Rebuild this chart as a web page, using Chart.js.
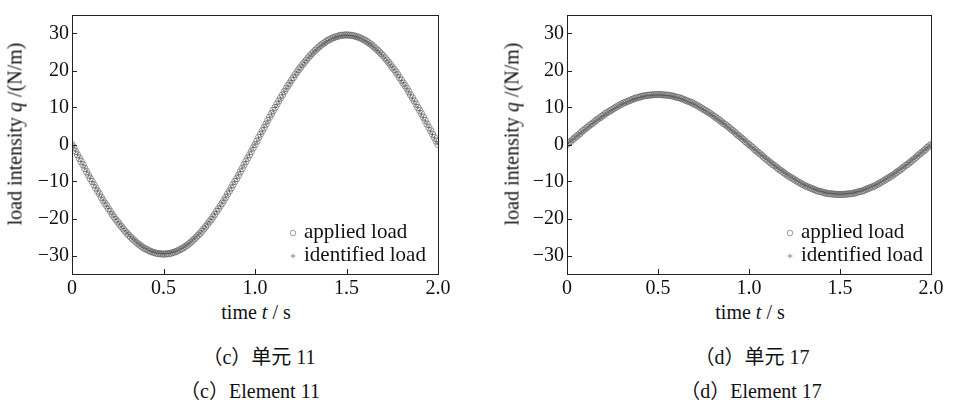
<!DOCTYPE html>
<html>
<head>
<meta charset="utf-8">
<script src="https://cdn.jsdelivr.net/npm/chart.js@4.4.0/dist/chart.umd.min.js"></script>
<style>
  html, body { margin: 0; padding: 0; background: #fff; }
  body { width: 954px; height: 404px; position: relative; overflow: hidden; font-family: "Liberation Serif", "Noto Sans CJK SC", serif; color: #111; }
  .cv { position: absolute; top: 0; }
  .ytitle { position: absolute; font-size: 20px; white-space: nowrap; transform: translate(-50%, -50%) rotate(-90deg); }
  .xtitle { position: absolute; font-size: 20px; white-space: nowrap; transform: translate(-50%, -50%); }
  .cap { position: absolute; font-size: 20px; white-space: nowrap; transform: translate(-50%, -50%); font-family: "Liberation Serif", "Noto Sans CJK SC", serif; }
</style>
</head>
<body>
<canvas id="c1" class="cv" width="477" height="300" style="left:0px"></canvas>
<canvas id="c2" class="cv" width="477" height="300" style="left:477px"></canvas>

<div class="ytitle" style="left:15px; top:134px;">load intensity <i>q</i> /(N/m)</div>
<div class="ytitle" style="left:512px; top:134px;">load intensity <i>q</i> /(N/m)</div>
<div class="xtitle" style="left:256px; top:312px;">time <i>t</i> / s</div>
<div class="xtitle" style="left:750px; top:312px;">time <i>t</i> / s</div>
<div class="cap" style="left:259px; top:355px;">（c）单元 11</div>
<div class="cap" style="left:250px; top:389px;">（c）Element 11</div>
<div class="cap" style="left:752px; top:355px;">（d）单元 17</div>
<div class="cap" style="left:751px; top:389px;">（d）Element 17</div>

<script>
const time = [0,0.01,0.02,0.03,0.04,0.05,0.06,0.07,0.08,0.09,0.10,0.11,0.12,0.13,0.14,0.15,0.16,0.17,0.18,0.19,0.20,0.21,0.22,0.23,0.24,0.25,0.26,0.27,0.28,0.29,0.30,0.31,0.32,0.33,0.34,0.35,0.36,0.37,0.38,0.39,0.40,0.41,0.42,0.43,0.44,0.45,0.46,0.47,0.48,0.49,
0.50,0.51,0.52,0.53,0.54,0.55,0.56,0.57,0.58,0.59,0.60,0.61,0.62,0.63,0.64,0.65,0.66,0.67,0.68,0.69,0.70,0.71,0.72,0.73,0.74,0.75,0.76,0.77,0.78,0.79,0.80,0.81,0.82,0.83,0.84,0.85,0.86,0.87,0.88,0.89,0.90,0.91,0.92,0.93,0.94,0.95,0.96,0.97,0.98,0.99,
1.00,1.01,1.02,1.03,1.04,1.05,1.06,1.07,1.08,1.09,1.10,1.11,1.12,1.13,1.14,1.15,1.16,1.17,1.18,1.19,1.20,1.21,1.22,1.23,1.24,1.25,1.26,1.27,1.28,1.29,1.30,1.31,1.32,1.33,1.34,1.35,1.36,1.37,1.38,1.39,1.40,1.41,1.42,1.43,1.44,1.45,1.46,1.47,1.48,1.49,
1.50,1.51,1.52,1.53,1.54,1.55,1.56,1.57,1.58,1.59,1.60,1.61,1.62,1.63,1.64,1.65,1.66,1.67,1.68,1.69,1.70,1.71,1.72,1.73,1.74,1.75,1.76,1.77,1.78,1.79,1.80,1.81,1.82,1.83,1.84,1.85,1.86,1.87,1.88,1.89,1.90,1.91,1.92,1.93,1.94,1.95,1.96,1.97,1.98,1.99,2.00];

const applied11 = [0,
-0.9,-1.9,-2.8,-3.7,-4.6,-5.5,-6.5,-7.4,-8.3,-9.2,-10.0,-10.9,-11.8,-12.6,-13.4,-14.3,-15.1,-15.9,-16.6,-17.4,-18.1,-18.9,-19.6,-20.3,-20.9,-21.6,-22.2,-22.8,-23.4,-24.0,-24.5,-25.0,-25.5,-25.9,-26.4,-26.8,-27.2,-27.5,-27.9,-28.2,-28.4,-28.7,-28.9,-29.1,-29.2,-29.4,-29.5,-29.5,-29.6,-29.6,
-29.6,-29.5,-29.5,-29.4,-29.2,-29.1,-28.9,-28.7,-28.4,-28.2,-27.9,-27.5,-27.2,-26.8,-26.4,-25.9,-25.5,-25.0,-24.5,-24.0,-23.4,-22.8,-22.2,-21.6,-20.9,-20.3,-19.6,-18.9,-18.1,-17.4,-16.6,-15.9,-15.1,-14.3,-13.4,-12.6,-11.8,-10.9,-10.0,-9.2,-8.3,-7.4,-6.5,-5.5,-4.6,-3.7,-2.8,-1.9,-0.9,0,
0.9,1.9,2.8,3.7,4.6,5.5,6.5,7.4,8.3,9.2,10.0,10.9,11.8,12.6,13.4,14.3,15.1,15.9,16.6,17.4,18.1,18.9,19.6,20.3,20.9,21.6,22.2,22.8,23.4,24.0,24.5,25.0,25.5,25.9,26.4,26.8,27.2,27.5,27.9,28.2,28.4,28.7,28.9,29.1,29.2,29.4,29.5,29.5,29.6,29.6,
29.6,29.5,29.5,29.4,29.2,29.1,28.9,28.7,28.4,28.2,27.9,27.5,27.2,26.8,26.4,25.9,25.5,25.0,24.5,24.0,23.4,22.8,22.2,21.6,20.9,20.3,19.6,18.9,18.1,17.4,16.6,15.9,15.1,14.3,13.4,12.6,11.8,10.9,10.0,9.2,8.3,7.4,6.5,5.5,4.6,3.7,2.8,1.9,0.9,0];

const identified11 = [0.3,
-0.8,-1.8,-2.7,-3.6,-4.6,-5.5,-6.4,-7.3,-8.2,-9.1,-10.0,-10.8,-11.7,-12.5,-13.4,-14.2,-15.0,-15.8,-16.6,-17.3,-18.1,-18.8,-19.5,-20.2,-20.9,-21.5,-22.1,-22.7,-23.3,-23.9,-24.4,-24.9,-25.4,-25.8,-26.3,-26.7,-27.1,-27.4,-27.8,-28.1,-28.3,-28.6,-28.8,-29.0,-29.1,-29.3,-29.4,-29.4,-29.5,-29.5,
-29.5,-29.4,-29.4,-29.3,-29.1,-29.0,-28.8,-28.6,-28.3,-28.1,-27.8,-27.4,-27.1,-26.7,-26.3,-25.8,-25.4,-24.9,-24.4,-23.9,-23.3,-22.7,-22.1,-21.5,-20.9,-20.2,-19.5,-18.8,-18.1,-17.3,-16.6,-15.8,-15.0,-14.2,-13.4,-12.5,-11.7,-10.8,-10.0,-9.1,-8.2,-7.3,-6.4,-5.5,-4.6,-3.6,-2.7,-1.8,-0.8,0.1,
0.8,1.8,2.7,3.6,4.6,5.5,6.4,7.3,8.2,9.1,10.0,10.8,11.7,12.5,13.4,14.2,15.0,15.8,16.6,17.3,18.1,18.8,19.5,20.2,20.9,21.5,22.1,22.7,23.3,23.9,24.4,24.9,25.4,25.8,26.3,26.7,27.1,27.4,27.8,28.1,28.3,28.6,28.8,29.0,29.1,29.3,29.4,29.4,29.5,29.5,
29.5,29.4,29.4,29.3,29.1,29.0,28.8,28.6,28.3,28.1,27.8,27.4,27.1,26.7,26.3,25.8,25.4,24.9,24.4,23.9,23.3,22.7,22.1,21.5,20.9,20.2,19.5,18.8,18.1,17.3,16.6,15.8,15.0,14.2,13.4,12.5,11.7,10.8,10.0,9.1,8.2,7.3,6.4,5.5,4.6,3.6,2.7,1.8,0.8,0.2];

const applied17 = [0,
0.4,0.8,1.3,1.7,2.1,2.5,2.9,3.4,3.8,4.2,4.6,5.0,5.4,5.7,6.1,6.5,6.9,7.2,7.6,7.9,8.3,8.6,8.9,9.2,9.5,9.8,10.1,10.4,10.7,10.9,11.2,11.4,11.6,11.8,12.0,12.2,12.4,12.6,12.7,12.8,13.0,13.1,13.2,13.3,13.3,13.4,13.4,13.5,13.5,13.5,
13.5,13.5,13.4,13.4,13.3,13.3,13.2,13.1,13.0,12.8,12.7,12.6,12.4,12.2,12.0,11.8,11.6,11.4,11.2,10.9,10.7,10.4,10.1,9.8,9.5,9.2,8.9,8.6,8.3,7.9,7.6,7.2,6.9,6.5,6.1,5.7,5.4,5.0,4.6,4.2,3.8,3.4,2.9,2.5,2.1,1.7,1.3,0.8,0.4,0,
-0.4,-0.8,-1.3,-1.7,-2.1,-2.5,-2.9,-3.4,-3.8,-4.2,-4.6,-5.0,-5.4,-5.7,-6.1,-6.5,-6.9,-7.2,-7.6,-7.9,-8.3,-8.6,-8.9,-9.2,-9.5,-9.8,-10.1,-10.4,-10.7,-10.9,-11.2,-11.4,-11.6,-11.8,-12.0,-12.2,-12.4,-12.6,-12.7,-12.8,-13.0,-13.1,-13.2,-13.3,-13.3,-13.4,-13.4,-13.5,-13.5,-13.5,
-13.5,-13.5,-13.4,-13.4,-13.3,-13.3,-13.2,-13.1,-13.0,-12.8,-12.7,-12.6,-12.4,-12.2,-12.0,-11.8,-11.6,-11.4,-11.2,-10.9,-10.7,-10.4,-10.1,-9.8,-9.5,-9.2,-8.9,-8.6,-8.3,-7.9,-7.6,-7.2,-6.9,-6.5,-6.1,-5.7,-5.4,-5.0,-4.6,-4.2,-3.8,-3.4,-2.9,-2.5,-2.1,-1.7,-1.3,-0.8,-0.4,0];

const identified17 = [0.3,
0.5,0.9,1.3,1.7,2.1,2.5,2.9,3.3,3.7,4.1,4.5,4.9,5.3,5.7,6.1,6.4,6.8,7.1,7.5,7.8,8.2,8.5,8.8,9.1,9.4,9.7,10.0,10.3,10.6,10.8,11.1,11.3,11.5,11.7,11.9,12.1,12.3,12.5,12.6,12.7,12.9,13.0,13.1,13.2,13.2,13.3,13.3,13.4,13.4,13.4,
13.4,13.4,13.3,13.3,13.2,13.2,13.1,13.0,12.9,12.7,12.6,12.5,12.3,12.1,11.9,11.7,11.5,11.3,11.1,10.8,10.6,10.3,10.0,9.7,9.4,9.1,8.8,8.5,8.2,7.8,7.5,7.1,6.8,6.4,6.1,5.7,5.3,4.9,4.5,4.1,3.7,3.3,2.9,2.5,2.1,1.7,1.3,0.9,0.4,-0.1,
-0.5,-0.9,-1.3,-1.7,-2.1,-2.5,-2.9,-3.3,-3.7,-4.1,-4.5,-4.9,-5.3,-5.7,-6.1,-6.4,-6.8,-7.1,-7.5,-7.8,-8.2,-8.5,-8.8,-9.1,-9.4,-9.7,-10.0,-10.3,-10.6,-10.8,-11.1,-11.3,-11.5,-11.7,-11.9,-12.1,-12.3,-12.5,-12.6,-12.7,-12.9,-13.0,-13.1,-13.2,-13.2,-13.3,-13.3,-13.4,-13.4,-13.4,
-13.4,-13.4,-13.3,-13.3,-13.2,-13.2,-13.1,-13.0,-12.9,-12.7,-12.6,-12.5,-12.3,-12.1,-11.9,-11.7,-11.5,-11.3,-11.1,-10.8,-10.6,-10.3,-10.0,-9.7,-9.4,-9.1,-8.8,-8.5,-8.2,-7.8,-7.5,-7.1,-6.8,-6.4,-6.1,-5.7,-5.3,-4.9,-4.5,-4.1,-3.7,-3.3,-2.9,-2.5,-2.1,-1.7,-1.3,-0.9,-0.4,0.1];

const xTicks = [0, 0.5, 1.0, 1.5, 2.0];
const xTickLabels = ["0", "0.5", "1.0", "1.5", "2.0"];
const yTicks = [-30, -20, -10, 0, 10, 20, 30];
const yTickLabels = ["\u221230", "\u221220", "\u221210", "0", "10", "20", "30"];
const seriesNames = ["applied load", "identified load"];

const FONT = "'Liberation Serif', serif";

const framePlugin = {
  id: 'frame',
  afterDraw(chart, args, opts) {
    const ctx = chart.ctx;
    const a = chart.chartArea;
    ctx.save();
    ctx.strokeStyle = '#222';
    ctx.lineWidth = 1;
    ctx.strokeRect(Math.round(a.left) + 0.5, Math.round(a.top) + 0.5, Math.round(a.right - a.left), Math.round(a.bottom - a.top));
    const xs = chart.scales.x, ys = chart.scales.y;
    ctx.beginPath();
    xs.ticks.forEach(t => {
      const px = Math.round(xs.getPixelForValue(t.value)) + 0.5;
      ctx.moveTo(px, Math.round(a.bottom));
      ctx.lineTo(px, Math.round(a.bottom) - 5);
    });
    ys.ticks.forEach(t => {
      const py = Math.round(ys.getPixelForValue(t.value)) + 0.5;
      ctx.moveTo(Math.round(a.left), py);
      ctx.lineTo(Math.round(a.left) + 5, py);
    });
    ctx.stroke();
    const lx = a.right - opts.rightOffset;
    const rows = [a.bottom - 42, a.bottom - 19];
    ctx.font = "21px " + FONT;
    ctx.fillStyle = '#111';
    ctx.textBaseline = 'middle';
    ctx.textAlign = 'left';
    chart.data.datasets.forEach((ds, i) => {
      const y = rows[i];
      ctx.strokeStyle = ds.borderColor;
      ctx.lineWidth = 1;
      ctx.beginPath();
      if (ds.pointStyle === 'circle') {
        ctx.arc(lx, y + 1, 2.8, 0, Math.PI * 2);
      } else {
        ctx.moveTo(lx - 2.5, y + 1); ctx.lineTo(lx + 2.5, y + 1);
        ctx.moveTo(lx, y - 1.5); ctx.lineTo(lx, y + 3.5);
      }
      ctx.stroke();
      ctx.fillText(ds.label, lx + 11, y);
    });
    ctx.restore();
  }
};

function makeChart(id, applied, identified, yAxisWidth, padRight, padTop, legendOffset) {
  const toPts = arr => time.map((t, i) => ({ x: t, y: arr[i] }));
  return new Chart(document.getElementById(id), {
    type: 'scatter',
    data: {
      datasets: [
        { label: seriesNames[0], data: toPts(applied), pointStyle: 'circle', pointRadius: 3.2, borderColor: 'rgba(90,90,90,0.6)', backgroundColor: 'rgba(0,0,0,0)', borderWidth: 1, pointHoverRadius: 3.2 },
        { label: seriesNames[1], data: toPts(identified), pointStyle: 'cross', pointRadius: 2, borderColor: 'rgba(60,60,60,0.55)', backgroundColor: 'rgba(0,0,0,0)', borderWidth: 1, pointHoverRadius: 2 }
      ]
    },
    options: {
      responsive: false,
      animation: false,
      devicePixelRatio: 1,
      layout: { padding: { left: 0, right: padRight, top: padTop, bottom: 0 } },
      plugins: {
        legend: { display: false },
        tooltip: { enabled: false },
        frame: { rightOffset: legendOffset }
      },
      scales: {
        x: {
          type: 'linear', min: 0, max: 2,
          grid: { display: false, drawTicks: false },
          border: { display: false },
          afterBuildTicks: s => { s.ticks = xTicks.map(v => ({ value: v })); },
          afterFit: s => { s.height = 26; },
          ticks: {
            padding: 3, color: '#111', maxRotation: 0, autoSkip: false,
            font: { family: FONT, size: 20 },
            callback: (v) => { const i = xTicks.indexOf(v); return i >= 0 ? xTickLabels[i] : ''; }
          }
        },
        y: {
          type: 'linear', min: -35, max: 35,
          grid: { display: false, drawTicks: false },
          border: { display: false },
          afterBuildTicks: s => { s.ticks = yTicks.map(v => ({ value: v })); },
          afterFit: s => { s.width = yAxisWidth; },
          ticks: {
            padding: 3, color: '#111', autoSkip: false,
            font: { family: FONT, size: 20 },
            callback: (v) => { const i = yTicks.indexOf(v); return i >= 0 ? yTickLabels[i] : ''; }
          }
        }
      }
    },
    plugins: [framePlugin]
  });
}

makeChart('c1', applied11, identified11, 72, 39, 5, 145);
makeChart('c2', applied17, identified17, 90, 23, 7, 141);
</script>
</body>
</html>
